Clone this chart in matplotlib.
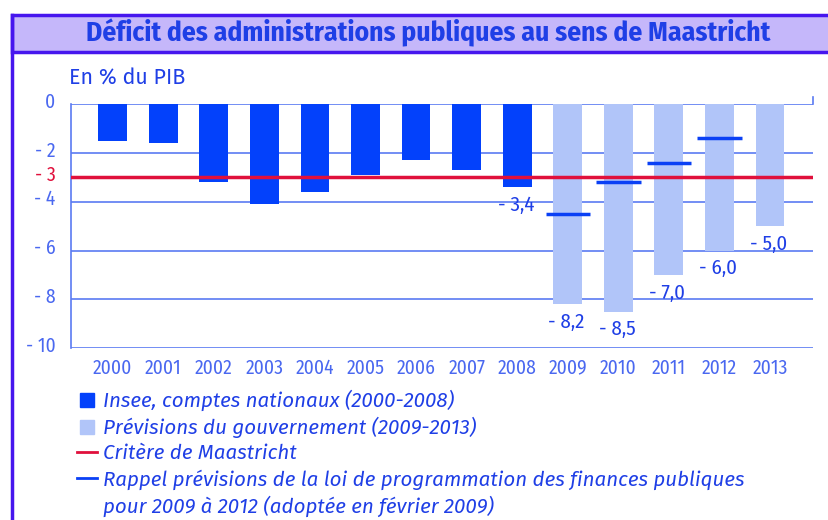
import matplotlib
matplotlib.use("Agg")
import matplotlib.pyplot as plt
from matplotlib.patches import Rectangle
from matplotlib.lines import Line2D
from matplotlib.transforms import ScaledTranslation

# data
years = [str(y) for y in range(2000, 2014)]
insee = [-1.5, -1.6, -3.2, -4.1, -3.6, -2.9, -2.3, -2.7, -3.4]     # 2000-2008
previsions = [-8.2, -8.5, -7.0, -6.0, -5.0]                        # 2009-2013
lpfp = [-4.5, -3.2, -2.4, -1.4]                                    # 2009-2012
maastricht = -3
label_years = years[8:]
label_values = [insee[-1]] + previsions
yticks = [0, -2, -3, -4, -6, -8, -10]
ytick_labels = ["0", "- 2", "- 3", "- 4", "- 6", "- 8", "- 10"]

# colours
dark = "#0341fb"
light = "#b1c5f9"
red = "#e0103c"
gridc = "#5a7af2"
txt = "#1f3fe6"
tick_txt = "#4a68f0"
frame = "#4616ee"
title_bg = "#c5b7fa"

NARROW = ["Fira Sans Condensed", "Asap Condensed", "DejaVu Sans"]
WIDE = ["Fira Sans", "Open Sans", "DejaVu Sans"]
plt.rcParams["font.family"] = NARROW

W, H = 829, 520
fig = plt.figure(figsize=(W / 100, H / 100), dpi=100)

# frame and title bar
fig.add_artist(Line2D([12.5 / W, 12.5 / W], [0, 1 - 14.5 / H], color=frame, lw=2.5))
fig.add_artist(Rectangle((12.5 / W, 1 - 51.5 / H), 1.0, 37 / H, facecolor=title_bg,
                         edgecolor=frame, lw=2.5, clip_on=False))
fig.text(428.5 / W, 1 - 33 / H, "Déficit des administrations publiques au sens de Maastricht",
         ha="center", va="center", fontsize=19.8, fontweight="bold", color=txt)

ax = fig.add_axes([70.7 / W, (H - 348.3) / H, (813 - 70.7) / W, (348.3 - 104) / H])
x_hist = list(range(len(insee)))
x_prev = list(range(len(insee), len(years)))

for y in [0, -2, -4, -6, -8, -10]:
    ax.axhline(y, color=gridc, lw=1.2, zorder=0)
ax.bar(x_hist, insee, width=0.57, color=dark, zorder=2)
ax.bar(x_prev, previsions, width=0.57, color=light, zorder=2)
ax.axhline(maastricht, color=red, lw=2.5, zorder=3)
ax.hlines(lpfp, [x - 0.44 for x in x_prev[:4]], [x + 0.44 for x in x_prev[:4]],
          color="#0a40f5", lw=2.5, zorder=4)

for yr, v in zip(label_years, label_values):
    ax.annotate(("- %.1f" % abs(v)).replace(".", ","), (years.index(yr), v),
                xytext=(-1, -6), textcoords="offset points", ha="center", va="top",
                fontsize=15, color=txt)

ax.set_xlim(-0.83, 13.85)
ax.set_ylim(-10, 0)
ax.set_xticks(range(len(years)))
ax.set_xticklabels(years)
ax.set_yticks(yticks)
ax.set_yticklabels(ytick_labels)
ax.tick_params(axis="x", length=0, pad=7, labelsize=14, labelcolor=tick_txt)
ax.tick_params(axis="y", length=0, pad=11, labelsize=14, labelcolor=tick_txt)
ax.get_yticklabels()[2].set_color(red)
for lab in ax.get_yticklabels():
    lab.set_transform(lab.get_transform() + ScaledTranslation(0, 0.04, fig.dpi_scale_trans))
for s in ["top", "right", "bottom"]:
    ax.spines[s].set_visible(False)
ax.spines["left"].set_color(gridc)
ax.spines["left"].set_linewidth(1.2)
ax.axvline(13.85, ymin=1, ymax=1.03, color=gridc, lw=1.2, clip_on=False)
ax.patch.set_alpha(0)

fig.text(69 / W, 1 - 78 / H, "En % du PIB", ha="left", va="center", fontsize=15.5,
         color=txt, family=WIDE)

# legend
handles = [
    Line2D([], [], marker="s", ls="none", markersize=10, color=dark),
    Line2D([], [], marker="s", ls="none", markersize=10, color=light),
    Line2D([], [], color=red, lw=2),
    Line2D([], [], color="#0a40f5", lw=2),
    Line2D([], [], alpha=0),
]
labels = [
    "Insee, comptes nationaux (2000-2008)",
    "Prévisions du gouvernement (2009-2013)",
    "Critère de Maastricht",
    "Rappel prévisions de la loi de programmation des finances publiques",
    "pour 2009 à 2012 (adoptée en février 2009)",
]
fig.legend(handles, labels, loc="upper left", bbox_to_anchor=(77 / W, 1 - 390 / H),
           frameon=False, handlelength=0.95, handletextpad=0.3, labelspacing=0.27,
           borderpad=0, borderaxespad=0, labelcolor=txt,
           prop={"family": WIDE, "style": "italic", "size": 14.8})

fig.savefig("out.png", dpi=100)
